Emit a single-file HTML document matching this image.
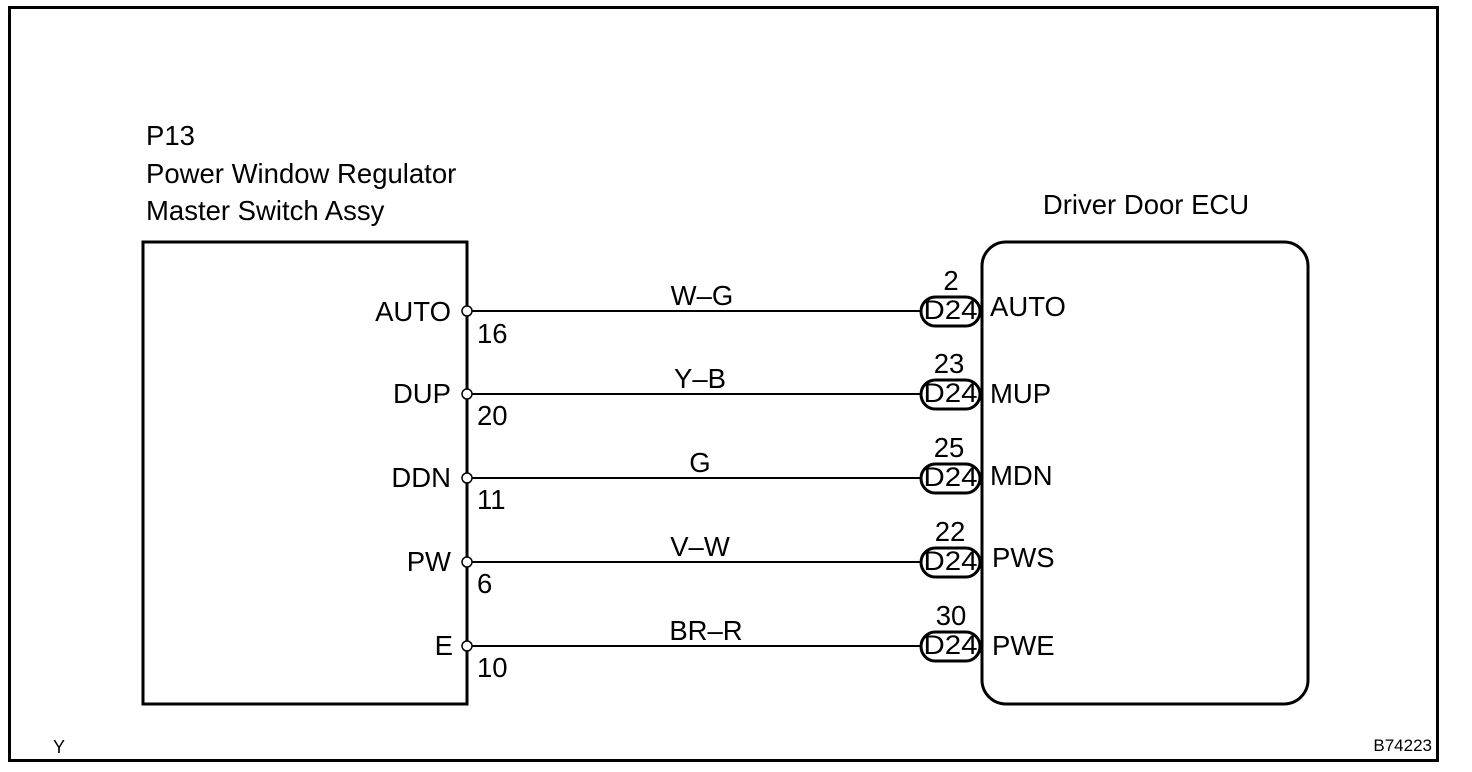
<!DOCTYPE html>
<html><head><style>html,body{margin:0;padding:0;background:#fff}svg{display:block}text{font-family:"Liberation Sans",sans-serif;fill:#000}</style></head>
<body>
<svg width="1472" height="772" viewBox="0 0 1472 772" xmlns="http://www.w3.org/2000/svg">
<rect x="9.5" y="7.5" width="1428" height="753" fill="none" stroke="#000" stroke-width="3"/>
<g font-size="27.5">
<text x="146" y="145">P13</text>
<text x="146" y="183">Power Window Regulator</text>
<text x="146" y="220">Master Switch Assy</text>
<text x="1146" y="214" text-anchor="middle">Driver Door ECU</text>
</g>
<rect x="143" y="242" width="324" height="462" fill="none" stroke="#000" stroke-width="3"/>
<rect x="982" y="242" width="326" height="462" rx="24" fill="none" stroke="#000" stroke-width="3"/>
<g stroke="#000" stroke-width="2" fill="none">
<line x1="472" y1="311" x2="921" y2="311"/>
<line x1="472" y1="394" x2="921" y2="394"/>
<line x1="472" y1="478" x2="921" y2="478"/>
<line x1="472" y1="562" x2="921" y2="562"/>
<line x1="472" y1="646" x2="921" y2="646"/>
</g>
<g stroke="#000" stroke-width="1.5" fill="#fff">
<circle cx="467" cy="311" r="5"/><circle cx="467" cy="394" r="5"/><circle cx="467" cy="478" r="5"/><circle cx="467" cy="562" r="5"/><circle cx="467" cy="646" r="5"/>
</g>
<g stroke="#000" stroke-width="3" fill="#fff">
<rect x="921" y="297" width="59" height="29" rx="14.5"/>
<rect x="921" y="380" width="59" height="29" rx="14.5"/>
<rect x="921" y="464" width="59" height="29" rx="14.5"/>
<rect x="921" y="548" width="59" height="29" rx="14.5"/>
<rect x="921" y="632" width="59" height="29" rx="14.5"/>
</g>
<g font-size="27.5">
<text x="451" y="321" text-anchor="end">AUTO</text>
<text x="451" y="403" text-anchor="end">DUP</text>
<text x="451" y="487" text-anchor="end">DDN</text>
<text x="451" y="571" text-anchor="end">PW</text>
<text x="453" y="655" text-anchor="end">E</text>
<text x="477" y="343">16</text>
<text x="477" y="425">20</text>
<text x="477" y="509">11</text>
<text x="477" y="593">6</text>
<text x="477" y="677">10</text>
<text x="702" y="305" text-anchor="middle">W–G</text>
<text x="700" y="388" text-anchor="middle">Y–B</text>
<text x="700" y="472" text-anchor="middle">G</text>
<text x="700" y="556" text-anchor="middle">V–W</text>
<text x="706" y="640" text-anchor="middle">BR–R</text>
<text x="951" y="290" text-anchor="middle">2</text>
<text x="949" y="373" text-anchor="middle">23</text>
<text x="949" y="457" text-anchor="middle">25</text>
<text x="950" y="541" text-anchor="middle">22</text>
<text x="951" y="625" text-anchor="middle">30</text>
<text x="990" y="316">AUTO</text>
<text x="990" y="403">MUP</text>
<text x="990" y="485">MDN</text>
<text x="992" y="567">PWS</text>
<text x="992" y="655">PWE</text>
</g>
<g font-size="27">
<text x="950.5" y="319" text-anchor="middle" textLength="54" lengthAdjust="spacingAndGlyphs">D24</text>
<text x="950.5" y="402" text-anchor="middle" textLength="54" lengthAdjust="spacingAndGlyphs">D24</text>
<text x="950.5" y="486" text-anchor="middle" textLength="54" lengthAdjust="spacingAndGlyphs">D24</text>
<text x="950.5" y="570" text-anchor="middle" textLength="54" lengthAdjust="spacingAndGlyphs">D24</text>
<text x="950.5" y="654" text-anchor="middle" textLength="54" lengthAdjust="spacingAndGlyphs">D24</text>
</g>
<text x="53" y="753" font-size="18">Y</text>
<text x="1432" y="751" font-size="17" text-anchor="end">B74223</text>
</svg>
</body></html>
